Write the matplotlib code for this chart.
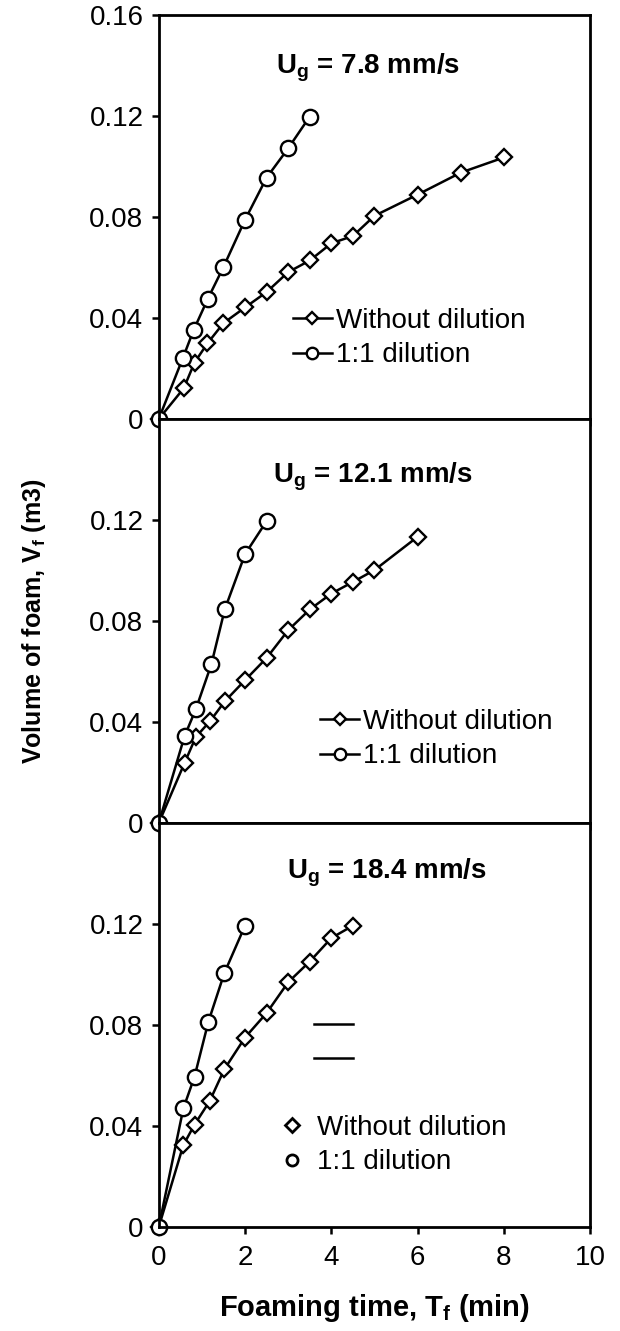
import matplotlib
matplotlib.use("Agg")
import matplotlib.pyplot as plt

plt.rcParams["font.family"] = ["Liberation Sans", "DejaVu Sans"]
plt.rcParams["mathtext.fontset"] = "custom"
plt.rcParams["mathtext.rm"] = "Liberation Sans"
plt.rcParams["mathtext.bf"] = "Liberation Sans:bold"

# --- data (foaming time in min, foam volume in m3) ---
t_no_78 = [0, 0.58, 0.83, 1.13, 1.5, 2, 2.5, 3, 3.5, 4, 4.5, 5, 6, 7, 8]
v_no_78 = [0, 0.0122, 0.0224, 0.030, 0.038, 0.0442, 0.0503, 0.0582, 0.0628, 0.0696, 0.0725, 0.0805, 0.0889, 0.0976, 0.1036]
t_dil_78 = [0, 0.56, 0.81, 1.14, 1.5, 2, 2.5, 3, 3.5]
v_dil_78 = [0, 0.0242, 0.0353, 0.0477, 0.0602, 0.0789, 0.0956, 0.1072, 0.1198]

t_no_121 = [0, 0.6, 0.86, 1.19, 1.53, 2, 2.5, 3, 3.5, 4, 4.5, 5, 6]
v_no_121 = [0, 0.0239, 0.0341, 0.0404, 0.0482, 0.0566, 0.0654, 0.0764, 0.0846, 0.0909, 0.0955, 0.1002, 0.1134]
t_dil_121 = [0, 0.6, 0.86, 1.22, 1.53, 2, 2.5]
v_dil_121 = [0, 0.0345, 0.0451, 0.0629, 0.0846, 0.1065, 0.1196]

t_no_184 = [0, 0.57, 0.83, 1.18, 1.52, 2, 2.5, 3, 3.5, 4, 4.5]
v_no_184 = [0, 0.0325, 0.0406, 0.0499, 0.0625, 0.0751, 0.0848, 0.097, 0.1052, 0.1145, 0.1194]
t_dil_184 = [0, 0.57, 0.83, 1.15, 1.52, 2]
v_dil_184 = [0, 0.047, 0.0596, 0.0813, 0.1006, 0.1194]

titles = [r"U$_\mathbf{g}$ = 7.8 mm/s", r"U$_\mathbf{g}$ = 12.1 mm/s", r"U$_\mathbf{g}$ = 18.4 mm/s"]
title_pos = [(4.85, 0.137), (4.97, 0.135), (5.29, 0.138)]
labels = ["Without dilution", "1:1 dilution"]
y_ticks = [0, 0.04, 0.08, 0.12, 0.16]
y_ticklabels = ["0", "0.04", "0.08", "0.12", "0.16"]
x_ticks = [0, 2, 4, 6, 8, 10]

# stray legend line pieces left in the bottom panel
stray_x = [3.6, 4.5]
stray_y = [0.0804, 0.0668]

panels = [
    (t_no_78, v_no_78, t_dil_78, v_dil_78),
    (t_no_121, v_no_121, t_dil_121, v_dil_121),
    (t_no_184, v_no_184, t_dil_184, v_dil_184),
]
legend_anchor = [(0.311, 0.20), (0.374, 0.208), (0.277, 0.203)]

fig, axes = plt.subplots(3, 1, figsize=(6.2, 13.31), dpi=100, sharex=True)
fig.subplots_adjust(left=0.256, right=0.952, top=0.9887, bottom=0.078, hspace=0)

FS = 20
for i, (ax, (tn, vn, td, vd)) in enumerate(zip(axes, panels)):
    ax.plot(tn, vn, "-", color="black", lw=1.8, marker="D", ms=8, mfc="white",
            mec="black", mew=1.7, label=labels[0], clip_on=False)
    ax.plot(td, vd, "-", color="black", lw=1.8, marker="o", ms=11, mfc="white",
            mec="black", mew=1.7, label=labels[1], clip_on=False)
    ax.set_xlim(0, 10)
    ax.set_ylim(0, 0.16)
    ax.set_xticks(x_ticks)
    if i == 0:
        ax.set_yticks(y_ticks)
        ax.set_yticklabels(y_ticklabels)
    else:
        ax.set_yticks(y_ticks[:-1])
        ax.set_yticklabels(y_ticklabels[:-1])
    ax.tick_params(direction="out", length=5, width=1.8, labelsize=FS)
    ax.tick_params(axis="y", pad=6)
    ax.tick_params(axis="x", pad=8)
    for sp in ax.spines.values():
        sp.set_linewidth(2)
    ax.text(*title_pos[i], titles[i], ha="center", va="baseline",
            fontsize=FS, fontweight="bold")

    if i < 2:
        ax.legend(loc="center left", bbox_to_anchor=legend_anchor[i], frameon=False,
                  fontsize=FS, borderpad=0, borderaxespad=0, handlelength=1.4,
                  handletextpad=0.15, labelspacing=0.3, markerscale=0.75)
    else:
        h = [plt.Line2D([], [], ls="none", marker="D", ms=7, mfc="white", mec="black", mew=2),
             plt.Line2D([], [], ls="none", marker="o", ms=8, mfc="white", mec="black", mew=2)]
        ax.legend(h, labels, loc="center left", bbox_to_anchor=legend_anchor[i], frameon=False,
                  fontsize=FS, borderpad=0, borderaxespad=0, handlelength=1.0,
                  handletextpad=0.4, labelspacing=0.3)
        for yy in stray_y:
            ax.plot(stray_x, [yy, yy], color="black", lw=1.8)

axes[2].set_xlabel(r"Foaming time, T$_\mathbf{f}$ (min)", fontsize=FS + 1,
                   fontweight="bold", labelpad=15)
axes[1].set_ylabel(r"Volume of foam, V$_\mathbf{f}$ (m3)", fontsize=18,
                   fontweight="bold", labelpad=30)

fig.savefig("out.png", dpi=100)
